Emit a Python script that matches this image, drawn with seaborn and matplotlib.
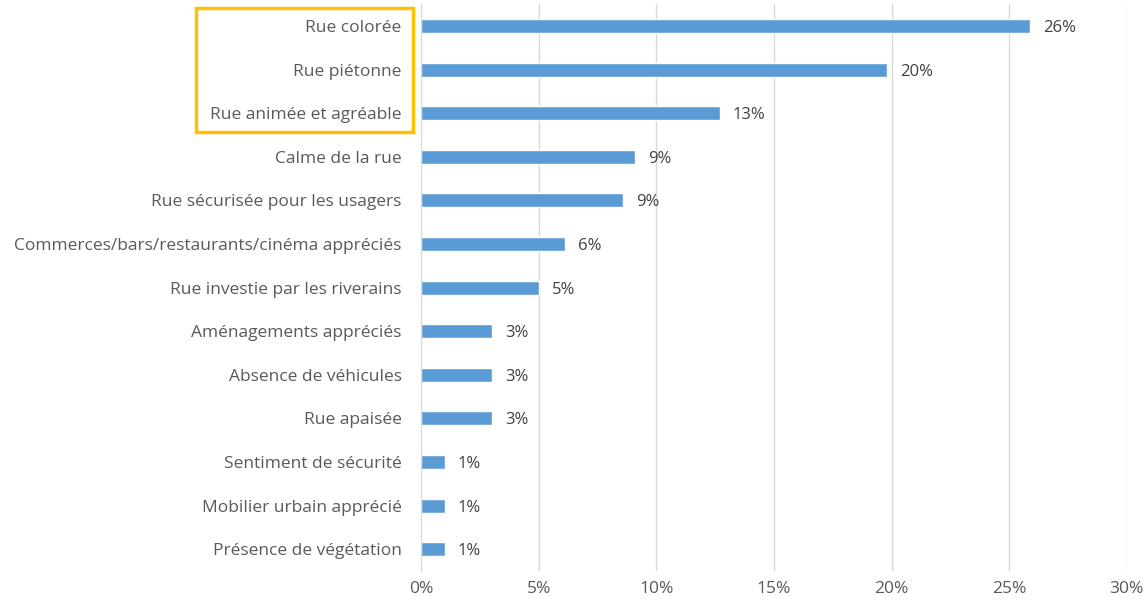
import matplotlib
matplotlib.use("Agg")
import matplotlib.pyplot as plt
import seaborn as sns
import pandas as pd
from matplotlib.patches import Rectangle

categories = [
    "Rue colorée", "Rue piétonne", "Rue animée et agréable", "Calme de la rue",
    "Rue sécurisée pour les usagers", "Commerces/bars/restaurants/cinéma appréciés",
    "Rue investie par les riverains", "Aménagements appréciés", "Absence de véhicules",
    "Rue apaisée", "Sentiment de sécurité", "Mobilier urbain apprécié",
    "Présence de végétation",
]
values = [25.9, 19.8, 12.7, 9.1, 8.6, 6.1, 5.0, 3.0, 3.0, 3.0, 1.0, 1.0, 1.0]
value_labels = ["26%", "20%", "13%", "9%", "9%", "6%", "5%", "3%", "3%", "3%", "1%", "1%", "1%"]
xticks = [0, 5, 10, 15, 20, 25, 30]
xtick_labels = ["0%", "5%", "10%", "15%", "20%", "25%", "30%"]

sns.set_style("white")
plt.rcParams['font.family'] = ['Open Sans', 'DejaVu Sans']

df = pd.DataFrame({"cat": categories, "val": values})

fig = plt.figure(figsize=(11.44, 6.03), dpi=100)
ax = fig.add_axes([0.368, 0.053, 0.617, 0.940])
sns.barplot(data=df, y="cat", x="val", orient="h", color="#5B9BD5",
            saturation=1, width=0.32, ax=ax)

ax.set_xlim(0, 30)
ax.set_ylim(12.5, -0.5)
ax.set_xticks(xticks)
ax.set_xticklabels(xtick_labels)
ax.set_xlabel("")
ax.set_ylabel("")
ax.xaxis.grid(True, color="#D9D9D9", linewidth=1)
ax.set_axisbelow(True)
for s in ["top", "right", "bottom"]:
    ax.spines[s].set_visible(False)
ax.spines["left"].set_color("#D9D9D9")
ax.tick_params(axis="both", length=0, colors="#595959", labelsize=12.5)
ax.tick_params(axis="y", pad=14)
ax.tick_params(axis="x", pad=7)

for i, (v, lab) in enumerate(zip(values, value_labels)):
    ax.annotate(lab, xy=(v, i), xytext=(9.5, 0), textcoords="offset points",
                va="center_baseline", ha="left", fontsize=12, color="#404040")

rect = Rectangle((196 / 1144, 1 - 132 / 603), (413 - 196) / 1144, (132 - 8) / 603,
                 transform=fig.transFigure, fill=False, edgecolor="#FFC000",
                 linewidth=2.5)
fig.patches.append(rect)

fig.savefig("out.png", dpi=100)
